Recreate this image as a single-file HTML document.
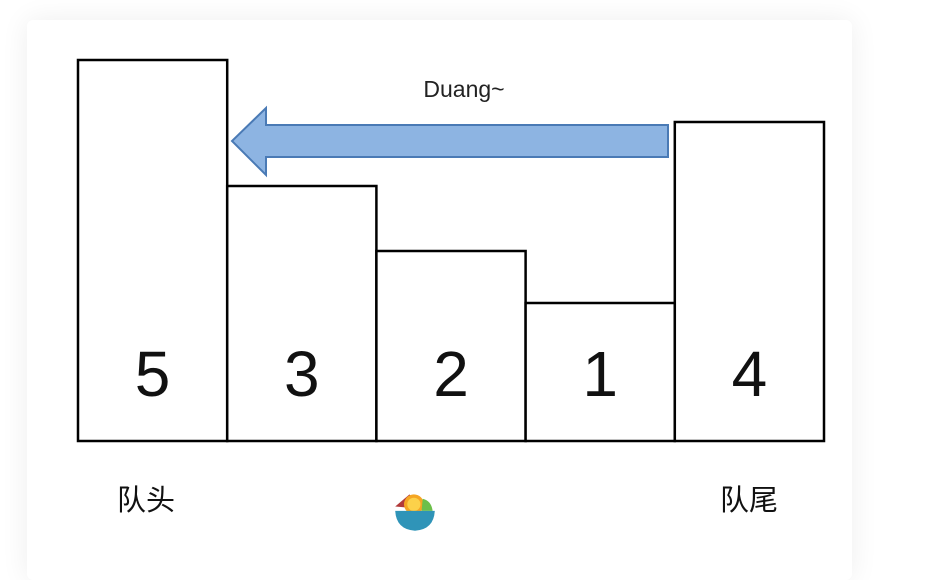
<!DOCTYPE html>
<html><head><meta charset="utf-8"><style>
html,body{margin:0;padding:0;background:#fff;width:947px;height:543px;overflow:hidden}
#card{position:absolute;left:27px;top:20px;width:825px;height:560px;background:#fff;border-radius:6px;box-shadow:0 0 28px rgba(0,0,0,0.07)}
svg{position:absolute;left:0;top:0}
</style></head><body>
<div id="card"></div>
<svg width="947" height="543">
<g id="bars"></g>
<polygon points="668,125 266,125 266,108 232,141 266,175 266,157 668,157" fill="#8db4e2" stroke="#4a7ab5" stroke-width="2"/>
<text x="464" y="97" text-anchor="middle" font-family="Liberation Sans, sans-serif" font-size="23" fill="#222">Duang~</text>
<text x="146" y="510" text-anchor="middle" font-family="'Liberation Sans','Noto Sans CJK SC',sans-serif" font-size="29" fill="#111">队头</text>
<text x="749" y="510" text-anchor="middle" font-family="'Liberation Sans','Noto Sans CJK SC',sans-serif" font-size="29" fill="#111">队尾</text>
<g transform="translate(415,512) scale(1.1) translate(-415,-512)">
<path d="M397 507 L410 496 L420 509 Z" fill="#b23a3a"/>
<circle cx="414" cy="505" r="9" fill="#f5a623"/>
<circle cx="414" cy="505" r="6" fill="#fcd14a"/>
<path d="M422 500 Q430 502 431 511 L421 511 Z" fill="#6cbf4a"/>
<path d="M397 511 L433 511 Q432 528 415 529 Q398 528 397 511 Z" fill="#2f94b8"/>
</g>
</svg>
<script>
const labels = ["5","3","2","1","4"];
const heights = [381,255,190,138,319];
const baseY = 441, x0 = 78, barW = 149.2;
const g = document.getElementById('bars');
const ns = 'http://www.w3.org/2000/svg';
labels.forEach((lab,i)=>{
  const r = document.createElementNS(ns,'rect');
  
  
  r.setAttribute('x', x0 + i*barW);
  r.setAttribute('y', baseY - heights[i]);
  r.setAttribute('width', barW);
  r.setAttribute('height', heights[i]);
  r.setAttribute('fill','#fff');
  r.setAttribute('stroke','#000');
  r.setAttribute('stroke-width','2.5');
  g.appendChild(r);
  const t = document.createElementNS(ns,'text');
  
  
  t.setAttribute('x', x0 + i*barW + barW/2);
  t.setAttribute('y', 396);
  t.setAttribute('text-anchor','middle');
  t.setAttribute('font-family','Liberation Sans, sans-serif');
  t.setAttribute('font-size','64');
  t.setAttribute('fill','#111');
  t.textContent = lab;
  g.appendChild(t);
});
</script>
</body></html>
